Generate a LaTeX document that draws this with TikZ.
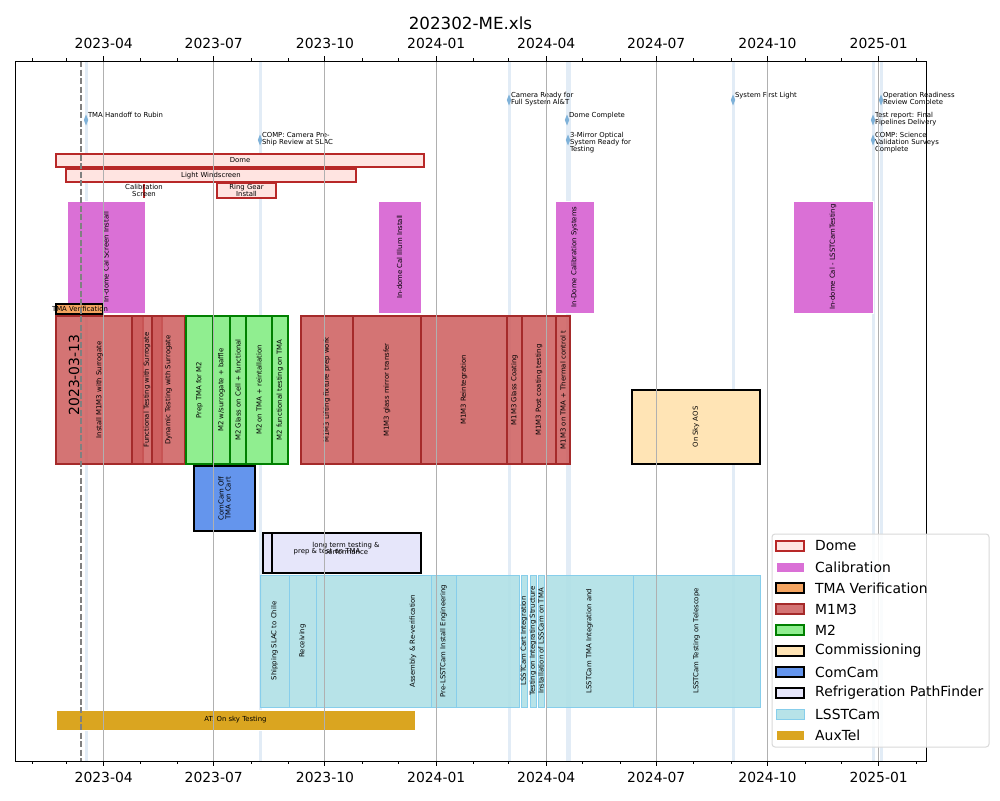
\documentclass[tikz,border=0pt]{standalone}
\usepackage{fontspec}
\setmainfont{DejaVu Sans}

% colours of the groups
\definecolor{domefill}{HTML}{FFE4E1}
\definecolor{domeedge}{HTML}{B82828}
\definecolor{calfill}{HTML}{DA70D6}
\definecolor{tmafill}{HTML}{F4A460}
\definecolor{mfill}{HTML}{CD5C5C}
\definecolor{medge}{HTML}{A52A2A}
\definecolor{mtwofill}{HTML}{90EE90}
\definecolor{mtwoedge}{HTML}{008000}
\definecolor{comfill}{HTML}{FFE4B5}
\definecolor{ccfill}{HTML}{6495ED}
\definecolor{refrfill}{HTML}{E6E6FA}
\definecolor{lsstfill}{HTML}{B0E0E6}
\definecolor{lsstedge}{HTML}{87CEEB}
\definecolor{auxfill}{HTML}{DAA520}
\definecolor{msline}{HTML}{E2ECF6}
\definecolor{msmark}{HTML}{7FB2D9}
\definecolor{gridgray}{HTML}{B0B0B0}

% bar with a rotated label: name, style, x1, x2, y1, y2, text
\newcommand{\gbar}[7]{%
  \draw[#2] (#3,#5) rectangle (#4,#6);
  \node[lbl, rotate=90] (#1) at ({(#3+#4)/2},{(#5+#6)/2}) {#7};}
% milestone: name, x, y, text
\newcommand{\mstone}[4]{%
  \fill[msmark] (#2,#3) +(0,-5.5) -- +(2.2,0) -- +(0,5.5) -- +(-2.2,0) -- cycle;
  \node[mslbl] (#1) at (#2+1.8,#3-8.3) {#4};}

\begin{document}
\begin{tikzpicture}[x=1pt, y=-1pt,
  lbl/.style={font=\fontsize{6.9}{7}\selectfont, inner sep=0, align=center},
  mslbl/.style={font=\fontsize{6.9}{7}\selectfont, inner sep=0, align=left, anchor=north west},
  tick/.style={font=\fontsize{13.9}{16}\selectfont, inner sep=0},
  dome/.style={draw=domeedge, fill=domefill, line width=1.1},
  cal/.style={draw=white, fill=calfill, line width=0.6},
  tma/.style={draw=black, fill=tmafill, line width=1.1},
  mone/.style={draw=medge, fill=mfill, fill opacity=0.85, line width=1.1},
  mtwo/.style={draw=mtwoedge, fill=mtwofill, line width=1.1},
  comm/.style={draw=black, fill=comfill, line width=1.1},
  ccam/.style={draw=black, fill=ccfill, line width=1.1},
  refr/.style={draw=black, fill=refrfill, line width=1.1},
  lsst/.style={draw=lsstedge, fill=lsstfill, fill opacity=0.9, line width=0.8},
  aux/.style={draw=white, fill=auxfill, line width=0.6}]

  \useasboundingbox (0,0) rectangle (1000,800);
  \fill[white] (0,0) rectangle (1000,800);

  % title
  \node[font=\fontsize{16.7}{19}\selectfont] (title) at (470.5,23) {202302-ME.xls};

  % milestone lines (full height)
  \foreach \x in {86,260,509,567,569,733,873,881}
    \fill[msline] (\x-1.5,61) rectangle (\x+1.5,761);

  % milestones
  \mstone{handoff}{86}{120}{TMA Handoff to Rubin}
  \mstone{preship}{260}{140}{COMP: Camera Pre-\\Ship Review at SLAC}
  \mstone{camready}{509}{100}{Camera Ready for\\Full System AI\&T}
  \mstone{domedone}{567}{120}{Dome Complete}
  \mstone{threemirror}{568}{140}{3-Mirror Optical\\System Ready for\\Testing}
  \mstone{firstlight}{733}{100}{System First Light}
  \mstone{orr}{881}{100}{Operation Readiness\\Review Complete}
  \mstone{pipelines}{873}{120}{Test report: Final\\Pipelines Delivery}
  \mstone{sciverif}{873}{140}{COMP: Science\\Validation Surveys\\Complete}

  % Dome
  \draw[dome] (56,154) rectangle (424,167);
  \node[lbl] (dome) at (240,160.5) {Dome};
  \draw[dome] (66,169) rectangle (356,182);
  \node[lbl] (windscreen) at (211,175.5) {Light Windscreen};
  \draw[domeedge, line width=1.3] (144,184) -- (144,198);
  \node[lbl] (calscreen) at (144,190.5) {Calibration\\Screen};
  \draw[dome] (217,183) rectangle (276,198);
  \node[lbl] (ringgear) at (246.5,190.5) {Ring Gear\\Install};

  % Calibration
  \gbar{calscr}{cal}{67}{145}{201}{313}{In-dome Cal Screen Install}
  \gbar{calillum}{cal}{378}{421}{201}{313}{In-dome Cal Illum Install}
  \gbar{calsys}{cal}{555}{594}{201}{313}{In-Dome Calibration Systems}
  \gbar{callsst}{cal}{793}{873}{201}{313}{In-dome Cal - LSSTCamTesting}

  % TMA Verification
  \draw[tma] (56,304) rectangle (103,314);
  \node[lbl] (tmaverif) at (80,309) {TMA Verification};

  % M1M3
  \gbar{install}{mone}{56}{143}{316}{464}{Install M1M3 with Surrogate}
  \gbar{functest}{mone}{132}{162}{316}{464}{Functional Testing with Surrogate}
  \gbar{dyntest}{mone}{152}{185}{316}{464}{Dynamic Testing with Surrogate}
  \gbar{lifting}{mone}{301}{353}{316}{464}{M1M3 Lifting fixture  prep work}
  \gbar{transfer}{mone}{353}{421}{316}{464}{M1M3 glass mirror transfer}
  \gbar{reint}{mone}{421}{507}{316}{464}{M1M3 Reintegration}
  \gbar{coating}{mone}{507}{522}{316}{464}{M1M3 Glass Coating}
  \gbar{postcoat}{mone}{522}{556}{316}{464}{M1M3 Post coating testing}
  \gbar{thermal}{mone}{556}{570}{316}{464}{M1M3 on TMA + Thermal control t}

  % M2
  \gbar{prepmtwo}{mtwo}{186}{213}{316}{464}{Prep TMA for M2}
  \gbar{baffle}{mtwo}{213}{230}{316}{464}{M2 w/surrogate + baffle}
  \gbar{glasscell}{mtwo}{230}{246}{316}{464}{M2 Glass on Cell + functional}
  \gbar{reinst}{mtwo}{246}{272}{316}{464}{M2 on TMA + reintallation}
  \gbar{functma}{mtwo}{272}{288}{316}{464}{M2 functional testing  on TMA}

  % Commissioning, ComCam
  \gbar{aos}{comm}{632}{760}{390}{464}{On Sky AOS}
  \gbar{comcam}{ccam}{194}{255}{466}{531}{ComCam Off\\TMA on Cart}

  % Refrigeration PathFinder
  \draw[refr] (263,533) rectangle (392,573);
  \draw[refr] (272,533) rectangle (421,573);
  \node[lbl] (preptest) at (327,552) {prep \& test  on TMA};
  \node[lbl] (longterm) at (346,549) {long term testing \&\\performance};

  % LSSTCam
  \gbar{shipping}{lsst}{260}{289}{575}{707}{Shipping SLAC to Chile}
  \gbar{receiving}{lsst}{289}{316}{575}{707}{Receiving}
  \gbar{assembly}{lsst}{316}{519}{575}{707}{}
  \node[lbl, rotate=90] (assemblytxt) at (413,641) {Assembly \& Re-verification};
  \gbar{preinst}{lsst}{431}{456}{575}{707}{Pre-LSSTCam Install Engineering}
  \gbar{cart}{lsst}{521}{527}{575}{707}{LSSTCam Cart Integration}
  \gbar{integr}{lsst}{530}{536}{575}{707}{Testing on Integrating Structure}
  \gbar{lsstontma}{lsst}{538}{544}{575}{707}{Installation of LSSCam on TMA}
  \gbar{tmainteg}{lsst}{546}{633}{575}{707}{LSSTCam TMA Integration and}
  \gbar{ontel}{lsst}{633}{760}{575}{707}{LSSTCam Testing on Telescope}

  % AuxTel
  \draw[aux] (56,710) rectangle (415,730);
  \node[lbl] (auxtel) at (235.5,720) {AT: On sky Testing};

  % grid, ticks and labels
  \foreach \d/\t in {0/2023-04, 91/2023-07, 183/2023-10, 275/2024-01,
                     366/2024-04, 457/2024-07, 549/2024-10, 641/2025-01} {
    \draw[gridgray, line width=1] (103.7+1.2091*\d,61) -- (103.7+1.2091*\d,761);
    \draw[line width=1] (103.7+1.2091*\d,61) -- ++(0,-5);
    \draw[line width=1] (103.7+1.2091*\d,761) -- ++(0,5);
    \node[tick] at (103.7+1.2091*\d,43) {\t};
    \node[tick] at (103.7+1.2091*\d,777) {\t};
  }
  \foreach \d in {-59,-31,30,61,122,153,214,244,306,335,396,427,488,519,580,610,672} {
    \draw[line width=0.8] (103.7+1.2091*\d,61) -- ++(0,-3);
    \draw[line width=0.8] (103.7+1.2091*\d,761) -- ++(0,3);
  }

  % today line
  \draw[black!50, line width=1.9, dash pattern=on 6 off 2.5] (81,61) -- (81,761);
  \node[tick, rotate=90] (today) at (74,375) {2023-03-13};

  % frame
  \draw[line width=0.9] (15,61) rectangle (926,761);

  % legend
  \draw[black!15, fill=white, fill opacity=0.85, rounded corners=3, line width=1] (772,534) rectangle (989,747);
  \foreach \s/\t [count=\i from 0] in {dome/Dome, cal/Calibration, tma/TMA Verification,
      mone/M1M3, mtwo/M2, comm/Commissioning, ccam/ComCam,
      refr/Refrigeration PathFinder, lsst/LSSTCam, aux/AuxTel} {
    \draw[\s] (776,541+21*\i) rectangle (804,551+21*\i);
    \node[tick, anchor=west] at (815,546+21*\i) {\t};
  }
\end{tikzpicture}
\end{document}
